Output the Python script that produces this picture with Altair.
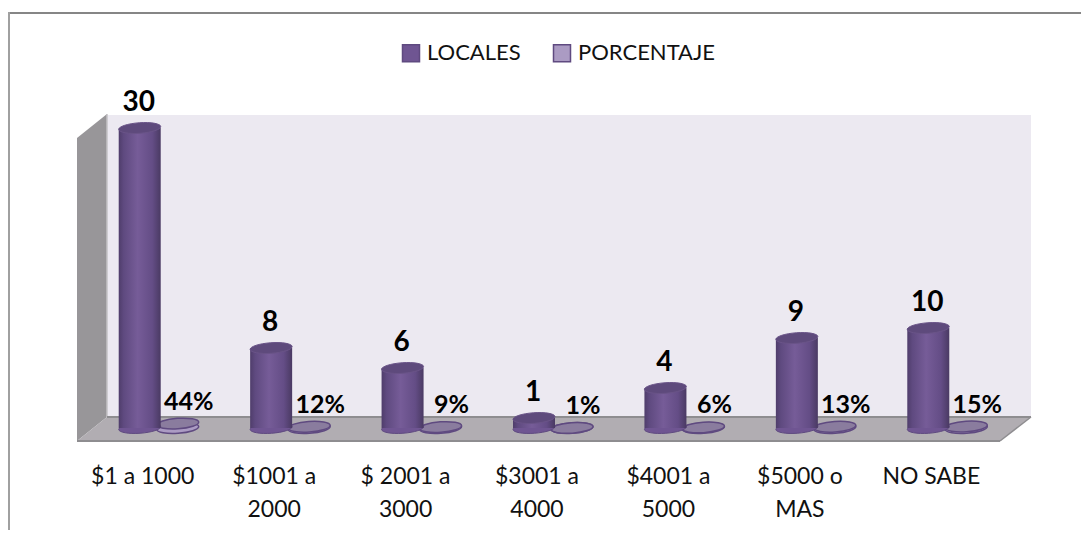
import altair as alt
import pandas as pd

categories = ["$1 a 1000", "$1001 a 2000", "$ 2001 a 3000", "$3001 a 4000", "$4001 a 5000", "$5000 o MAS", "NO SABE"]
locales = [30, 8, 6, 1, 4, 9, 10]
porcentaje = [0.44, 0.12, 0.09, 0.01, 0.06, 0.13, 0.15]
pct_labels = ["44%", "12%", "9%", "1%", "6%", "13%", "15%"]

W, H = 920, 326
FONT = "Lato"
CYL = 42
OFF_A = -3
OFF_B = 35

df = pd.DataFrame({"cat": categories, "loc": locales, "pct": porcentaje, "plabel": pct_labels})
long = pd.concat([
    pd.DataFrame({"cat": categories, "series": "LOCALES", "zero": 0}),
    pd.DataFrame({"cat": categories, "series": "PORCENTAJE", "zero": 0}),
])

x = alt.X("cat:N", sort=categories, scale=alt.Scale(paddingInner=0, paddingOuter=0),
          axis=alt.Axis(title=None, ticks=False, domain=False, labelAngle=0, labelFont=FONT, labelFontSize=23,
                        labelColor="#111111", labelPadding=35, labelLineHeight=33, labelBaseline="middle",
                        labelLimit=200, grid=False,
                        labelExpr="length(datum.label) > 9 ? [slice(datum.label,0,lastindexof(datum.label,' ')), slice(datum.label,lastindexof(datum.label,' ')+1)] : datum.label"))
yscale = alt.Scale(domain=[-1.3, 31.3], nice=False, zero=False)
y_loc = alt.Y("loc:Q", scale=yscale, axis=None)
y_pct = alt.Y("pct:Q", scale=yscale, axis=None)
y_zero = alt.Y("zero:Q", scale=yscale, axis=None)
blank = alt.Data(values=[{"a": 1}])


def poly(path, fill, stroke=None, sw=0):
    kw = dict(stroke=stroke, strokeWidth=sw) if stroke else dict(strokeWidth=0)
    return alt.Chart(blank).mark_point(shape=path, size=4, filled=True, fill=fill, opacity=1, **kw).encode(
        x=alt.value(0), y=alt.value(0))


def ellipse(ry, tilt=0.07):
    return f"M-1,{tilt} A1,{ry} -4 1 1 1,{-tilt} A1,{ry} -4 1 1 -1,{tilt} Z"


frame_top = alt.Chart(blank).mark_rule(color="#868686", strokeWidth=2).encode(
    x=alt.value(-68), x2=alt.value(1012), y=alt.value(-102))
frame_left = alt.Chart(blank).mark_rule(color="#a0a0a0", strokeWidth=2).encode(
    x=alt.value(-68), y=alt.value(-103), y2=alt.value(423))

back_wall = alt.Chart(blank).mark_rect(fill="#ece9f1").encode(
    x=alt.value(30), x2=alt.value(954), y=alt.value(0), y2=alt.value(302))
left_wall = poly("M0,23 L30,-1 L30,302 L0,326 Z", "#989699")
left_edge = alt.Chart(blank).mark_rule(color="#c4c2c6", strokeWidth=1.5).encode(
    x=alt.value(30), y=alt.value(-1), y2=alt.value(302))
floor = poly("M0,326 L30,302 L954,302 L923,326 Z", "#b1adb2")
floor_back = alt.Chart(blank).mark_rule(color="#8e8d90", strokeWidth=2).encode(
    x=alt.value(30), x2=alt.value(954), y=alt.value(302))
floor_front = alt.Chart(blank).mark_rule(color="#8e8d90", strokeWidth=2).encode(
    x=alt.value(0), x2=alt.value(923), y=alt.value(326))
floor_right = poly("M923,326 L954,302", "#8e8d90", "#8e8d90", 1.5)

cyl_grad = alt.Gradient(gradient="linear", x1=0, x2=1, y1=0, y2=0, stops=[
    alt.GradientStop(offset=0, color="#4f3d6b"), alt.GradientStop(offset=0.12, color="#5f4a80"),
    alt.GradientStop(offset=0.45, color="#765c98"), alt.GradientStop(offset=0.8, color="#644d86"),
    alt.GradientStop(offset=1, color="#4a3a63")])

color = alt.Color("series:N", scale=alt.Scale(domain=["LOCALES", "PORCENTAJE"], range=["#6f5592", "#ab9bc3"]),
                  legend=alt.Legend(title=None, orient="none", legendX=323, legendY=-73, direction="horizontal",
                                    symbolType="square", symbolSize=289, symbolStrokeWidth=1.5,
                                    symbolStrokeColor="#5f4a80", symbolOpacity=1, labelFont=FONT, labelFontSize=22,
                                    labelColor="#111111", columnPadding=29, labelOffset=5))


def base(series, off, sw):
    return alt.Chart(long).transform_filter(f"datum.series == '{series}'").mark_point(
        shape=ellipse(0.25), size=CYL * CYL, filled=True, opacity=1, stroke="#5f4a80", strokeWidth=sw, xOffset=off
    ).encode(x=x, y=y_zero, color=color)


base_loc = base("LOCALES", OFF_A, 1)
base_pct = base("PORCENTAJE", OFF_B, 1.5)

bars = alt.Chart(df).transform_calculate(zero="0").mark_bar(size=CYL, xOffset=OFF_A, fill=cyl_grad, strokeWidth=0).encode(
    x=x, y=y_loc, y2=alt.Y2("zero:Q"))
tops = alt.Chart(df).mark_point(shape=ellipse(0.25), size=CYL * CYL, filled=True, fill="#5e4a7c", opacity=1,
                                stroke="#6a5488", strokeWidth=1, xOffset=OFF_A).encode(x=x, y=y_loc)
pct_tops = alt.Chart(df).mark_point(shape=ellipse(0.25), size=CYL * CYL, filled=True, fill="#8a7c9e", opacity=1,
                                    stroke="#5f4a80", strokeWidth=1.5, xOffset=OFF_B).encode(x=x, y=y_pct)
text_loc = alt.Chart(df).mark_text(font=FONT, fontWeight="bold", fontSize=28, color="#000000", dy=-25, xOffset=OFF_A - 1).encode(
    x=x, y=y_loc, text="loc:Q")
text_pct = alt.Chart(df).mark_text(font=FONT, fontWeight="bold", fontSize=25, color="#000000", dy=-22, xOffset=46).encode(
    x=x, y=y_pct, text="plabel:N")

chart = alt.layer(
    frame_top, frame_left, back_wall, left_wall, left_edge, floor, floor_back, floor_front, floor_right,
    base_pct, pct_tops, base_loc, bars, tops, text_loc, text_pct
).properties(
    width=W, height=H, padding={"left": 69, "top": 107, "right": 84, "bottom": 89},
    autosize=alt.AutoSizeParams(type="none"),
).configure_view(stroke=None)

chart.save("out.html", embed_options={"renderer": "svg", "actions": False})
